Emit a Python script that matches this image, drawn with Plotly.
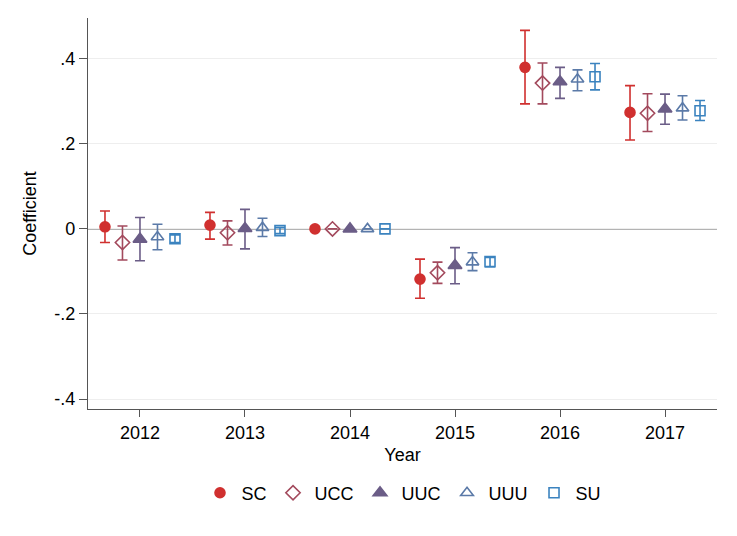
import plotly.graph_objects as go

years = [2012, 2013, 2014, 2015, 2016, 2017]
series = ["SC", "UCC", "UUC", "UUU", "SU"]

# point estimates
sc_coef  = [0.005, 0.009, 0.0, -0.118, 0.380, 0.274]
ucc_coef = [-0.032, -0.009, 0.0, -0.103, 0.343, 0.272]
uuc_coef = [-0.024, 0.001, 0.0, -0.086, 0.346, 0.282]
uuu_coef = [-0.019, 0.003, 0.0, -0.078, 0.352, 0.284]
su_coef  = [-0.023, -0.004, 0.0, -0.077, 0.358, 0.278]

# confidence interval bounds (None = reference year, no interval)
sc_lo  = [-0.032, -0.024, None, -0.163, 0.294, 0.209]
sc_hi  = [0.042, 0.039, None, -0.071, 0.467, 0.337]
ucc_lo = [-0.073, -0.038, None, -0.128, 0.294, 0.229]
ucc_hi = [0.007, 0.019, None, -0.078, 0.390, 0.318]
uuc_lo = [-0.075, -0.047, None, -0.129, 0.307, 0.246]
uuc_hi = [0.027, 0.046, None, -0.044, 0.380, 0.317]
uuu_lo = [-0.049, -0.018, None, -0.098, 0.325, 0.256]
uuu_hi = [0.011, 0.025, None, -0.056, 0.374, 0.313]
su_lo  = [-0.032, -0.011, None, -0.089, 0.327, 0.255]
su_hi  = [-0.014, 0.003, None, -0.067, 0.389, 0.302]

coefs = [sc_coef, ucc_coef, uuc_coef, uuu_coef, su_coef]
los = [sc_lo, ucc_lo, uuc_lo, uuu_lo, su_lo]
his = [sc_hi, ucc_hi, uuc_hi, uuu_hi, su_hi]

offsets = [-1/3, -1/6, 0, 1/6, 1/3]
colors = ["#d0302f", "#a34a5d", "#6b5d87", "#5b7aa8", "#3b83bf"]
symbols = ["circle", "diamond-open", "triangle-up", "triangle-up-open", "square-open"]
sizes = [10, 11, 12, 11, 10]

fig = go.Figure()
for name, c, lo, hi, off, col, sym, sz in zip(series, coefs, los, his, offsets, colors, symbols, sizes):
    xs = [y + off for y in years]
    plus = [None if h is None else h - v for h, v in zip(hi, c)]
    minus = [None if l is None else v - l for l, v in zip(lo, c)]
    fig.add_trace(go.Scatter(
        x=xs, y=c, mode="markers", name=name,
        marker=dict(symbol=sym, size=sz, color=col, line=dict(color=col, width=1.6)),
        error_y=dict(type="data", symmetric=False, array=plus, arrayminus=minus,
                     color=col, thickness=1.6, width=5),
    ))

fig.add_shape(type="line", xref="paper", x0=0, x1=1, yref="y", y0=0, y1=0,
              line=dict(color="#9a9a9a", width=1.6), layer="below")

fig.update_layout(
    width=737, height=536,
    paper_bgcolor="white", plot_bgcolor="white",
    margin=dict(l=80, r=28, t=10, b=135, autoexpand=False),
    font=dict(family="Liberation Sans, Arial, sans-serif", size=18, color="black"),
    showlegend=True,
    legend=dict(orientation="h", x=0.5, xanchor="center", y=-0.215, yanchor="middle",
                font=dict(size=18), itemwidth=33, tracegroupgap=0),
    xaxis=dict(range=[2011.505, 2017.495], tickvals=years, ticktext=[str(y) for y in years],
               showgrid=False, zeroline=False, showline=True, linecolor="#555555", linewidth=1.3,
               ticks="outside", ticklen=7, tickcolor="#555555", tickwidth=1.3,
               title=dict(text="Year", standoff=6, font=dict(size=18))),
    yaxis=dict(range=[-0.4235, 0.496], tickvals=[-0.4, -0.2, 0, 0.2, 0.4],
               ticktext=["-.4", "-.2", "0", ".2", ".4"],
               showgrid=True, gridcolor="#eeeeee", gridwidth=1, zeroline=False,
               showline=True, linecolor="#555555", linewidth=1.3,
               ticks="outside", ticklen=8, tickcolor="#555555", tickwidth=1.3,
               title=dict(text="Coefficient", standoff=12, font=dict(size=18))),
)

fig.write_html("out.html")
